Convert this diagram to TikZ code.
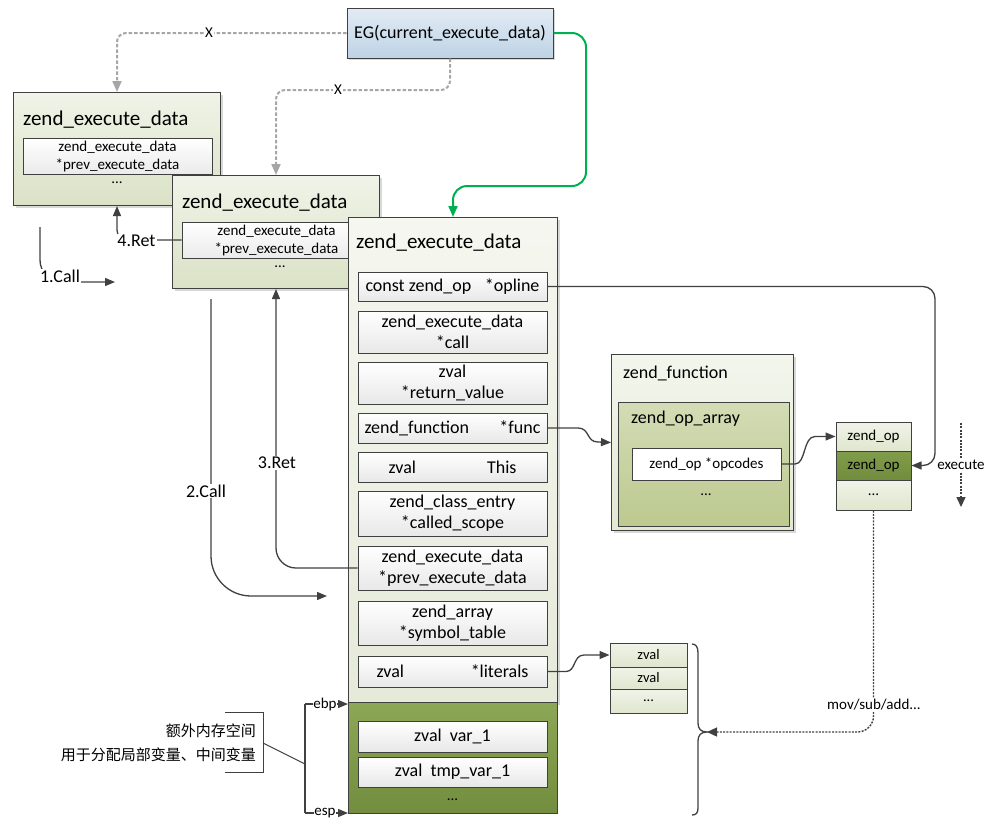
\documentclass[tikz,border=0pt]{standalone}
\usepackage{fontspec}
\setmainfont{Carlito}
\newfontfamily\cjk{Noto Sans CJK SC}
\usetikzlibrary{arrows.meta,shadows,calc}
\newcommand\szT{\fontsize{21}{24}\selectfont}
\newcommand\szM{\fontsize{18}{21}\selectfont}
\newcommand\szS{\fontsize{15}{18}\selectfont}
\newcommand\szX{\fontsize{14.5}{17}\selectfont}
\definecolor{linec}{HTML}{404040}
\definecolor{gline}{HTML}{A6A6A6}
\definecolor{gr}{HTML}{00B050}
\definecolor{bxA}{HTML}{DAE2C6}
\definecolor{bxM}{HTML}{E6EAD9}
\definecolor{bxF}{HTML}{E2E8D2}
\definecolor{egT}{HTML}{E2EBF4}
\definecolor{egB}{HTML}{BED3E6}
\definecolor{dkT}{HTML}{8CA857}
\definecolor{dkB}{HTML}{728D3D}
\definecolor{oaT}{HTML}{D3DCB5}
\definecolor{oaB}{HTML}{BCC98F}
\definecolor{ltT}{HTML}{F0F3E8}
\definecolor{ltB}{HTML}{E0E6CF}
\definecolor{zdT}{HTML}{819C4A}
\definecolor{zdB}{HTML}{728C3D}
\begin{document}
\begin{tikzpicture}[x=1pt,y=-1pt,
  bigbox/.style={draw=linec,line width=1pt,inner sep=0pt,anchor=north west,top color=#1!40!white,bottom color=#1,drop shadow={shadow xshift=2pt,shadow yshift=-2pt,fill=black!30,opacity=0.5}},
  bigbox/.default=bxA,
  plainbox/.style={draw=linec,line width=1pt,inner sep=0pt},
  rowbox/.style={draw=linec,line width=1pt,inner sep=0pt,top color=white,bottom color=black!9,minimum width=189pt,align=center,font=\szM},
  smallrow/.style={draw=linec,line width=1pt,inner sep=0pt,minimum width=#1,align=center,font=\szX},
  title/.style={inner sep=0pt,anchor=west,font=\szT},
  ttl/.style={inner sep=0pt,anchor=west,font=\szM},
  lbl/.style={fill=white,inner sep=1pt,font=\szM},
  slbl/.style={fill=white,inner sep=1pt,font=\szS},
  conn/.style={draw=linec,line width=1.3pt},
  arr/.style={conn,-{Triangle[length=10pt,width=8pt]}},
  gdash/.style={draw=gline,line width=2pt,dash pattern=on 3.5pt off 2pt,rounded corners=9pt,-{Triangle[length=11pt,width=9pt]}},
  dotarr/.style={draw=linec,line width=1.4pt,dash pattern=on 2pt off 1.3pt,-{Triangle[length=10pt,width=9pt]}}
]
\useasboundingbox (0,0) rectangle (994,823);

% EG box
\node[draw=linec,line width=1pt,top color=egT,bottom color=egB,minimum width=206pt,minimum height=50pt,inner sep=0pt,font=\szM,drop shadow={shadow xshift=2pt,shadow yshift=-2pt,fill=black!30,opacity=0.5}] (eg) at (450,33) {EG(current\_execute\_data)};

% box 1
\node[bigbox,minimum width=207pt,minimum height=113pt] (b1) at (13,92) {};
\node[title] (b1t) at (23,120) {zend\_execute\_data};
\node[plainbox,top color=white,bottom color=black!8,minimum width=189pt,minimum height=36pt,align=center,font=\szS] (b1in) at (117.5,156) {zend\_execute\_data\\*prev\_execute\_data};
\node[font=\szS,inner sep=0pt] (b1d) at (117,183) {...};

% box 2
\node[bigbox,minimum width=207pt,minimum height=113pt] (b2) at (172,175) {};
\node[title] (b2t) at (182,203) {zend\_execute\_data};
\node[plainbox,top color=white,bottom color=black!8,minimum width=189pt,minimum height=36pt,align=center,font=\szS] (b2in) at (276.5,240) {zend\_execute\_data\\*prev\_execute\_data};
\node[font=\szS,inner sep=0pt] (b2d) at (280,267) {...};

% main box
\node[bigbox=bxM,minimum width=209pt,minimum height=485pt] (m) at (348,217) {};
\node[draw=linec,line width=1pt,inner sep=0pt,anchor=north west,top color=dkT,bottom color=dkB,minimum width=209pt,minimum height=111pt] (md) at (348,702) {};
\node[title] (mt) at (356,243) {zend\_execute\_data};

\node[rowbox,minimum height=29pt] (r1) at (452.5,286.5) {\makebox[174pt]{const zend\_op\hfill *opline}};
\node[rowbox,minimum height=42pt] (r2) at (452.5,332) {zend\_execute\_data\\*call};
\node[rowbox,minimum height=42pt] (r3) at (452.5,383) {zval\\*return\_value};
\node[rowbox,minimum height=30pt] (r4) at (452.5,428) {\makebox[176pt]{zend\_function\hfill *func}};
\node[rowbox,minimum height=30pt] (r5) at (452.5,467) {\makebox[128pt]{zval\hfill This}};
\node[rowbox,minimum height=45pt] (r6) at (452.5,513.5) {zend\_class\_entry\\*called\_scope};
\node[rowbox,minimum height=44pt] (r7) at (452.5,568) {zend\_execute\_data\\*prev\_execute\_data};
\node[rowbox,minimum height=44pt] (r8) at (452.5,623) {zend\_array\\*symbol\_table};
\node[rowbox,minimum height=31pt] (r9) at (452.5,671.5) {\makebox[152pt]{zval\hfill *literals}};
\node[rowbox,minimum height=31pt] (r10) at (452.5,736.5) {zval\ \ var\_1};
\node[rowbox,minimum height=30pt] (r11) at (452.5,772) {zval\ \ tmp\_var\_1};
\node[font=\szS,inner sep=0pt] (mdd) at (452.5,800) {...};

% zend_function
\node[bigbox=bxF,minimum width=182pt,minimum height=176pt] (zf) at (611,354) {};
\node[ttl] (zft) at (623,373) {zend\_function};
\node[draw=linec,line width=1pt,inner sep=0pt,anchor=north west,top color=oaT,bottom color=oaB,minimum width=171pt,minimum height=124pt] (zoa) at (618,402) {};
\node[ttl] (zoat) at (631,419) {zend\_op\_array};
\node[plainbox,fill=white,minimum width=149pt,minimum height=32pt,font=\szS] (opc) at (706.5,464) {zend\_op *opcodes};
\node[font=\szS,inner sep=0pt] (zoad) at (706,495) {...};

% zend_op array
\node[smallrow=75pt,minimum height=29pt,top color=ltT,bottom color=ltB,font=\szS] (zop1) at (873.5,436.5) {zend\_op};
\node[smallrow=75pt,minimum height=29pt,top color=zdT,bottom color=zdB,font=\szS] (zop2) at (873.5,465.5) {zend\_op};
\node[smallrow=75pt,minimum height=30pt,top color=ltT,bottom color=ltB,font=\szS] (zop3) at (873.5,495) {...};

% zval array
\node[smallrow=77pt,minimum height=24pt,top color=ltT,bottom color=ltB] (zv1) at (648.5,655) {zval};
\node[smallrow=77pt,minimum height=22pt,top color=ltT,bottom color=ltB] (zv2) at (648.5,678) {zval};
\node[smallrow=77pt,minimum height=24pt,top color=ltT,bottom color=ltB] (zv3) at (648.5,701) {...};

% top connectors
\draw[gdash] (eg.west) -| (b1.north);
\node[slbl] (x1) at (209,33) {X};
\draw[gdash] (eg.south) -- (eg.south |- 0,90) -| (b2.north);
\node[slbl] (x2) at (338,90) {X};
\draw[draw=gr,line width=2pt,rounded corners=14pt,-{Triangle[length=11pt,width=9pt]}] (eg.east) -| (586,186) -| (m.north);

% call / ret
\coordinate (c1s) at (40,227);
\coordinate (c1e) at (115,282);
\draw[arr,rounded corners=22pt] (c1s) |- (c1e);
\node[lbl] (l1) at (60,276) {1.Call};

\draw[arr,rounded corners=10pt] (b2in.west) -| (b1.south);
\node[lbl] (l4) at (136.5,241) {4.Ret};

\coordinate (c2s) at (211,299);
\coordinate (c2e) at (327,596);
\draw[arr,rounded corners=40pt] (c2s) |- (c2e);
\node[lbl] (l2) at (206,491) {2.Call};

\draw[arr,rounded corners=20pt] (r7.west) -| (b2.south);
\node[lbl] (l3) at (277,463) {3.Ret};

% opline
\draw[arr,rounded corners=12pt] (r1.east) -| (935,465.5) -- (zop2.east);
% execute
\coordinate (exs) at (961,423);
\coordinate (exe) at (961,507);
\draw[dotarr] (exs) -- (exe);
\node[slbl] (exl) at (961,465) {execute};

% func
\draw[arr] (r4.east) -- (578,428) .. controls (590,428) and (586,442) .. (598,442) -- (zf.west);
% opcodes
\draw[arr] (opc.east) -- (795,464) .. controls (806,464) and (803,436.5) .. (815,436.5) -- (zop1.west);
% literals
\draw[arr] (r9.east) -- (566,671.5) .. controls (576,671.5) and (573,655) .. (584,655) -- (zv1.west);

% brace
\coordinate (btip) at (707,732);
\draw[conn] (692,644) .. controls (696,644) and (698,647) .. (698,653) -- (698,723) .. controls (698,729) and (701,732) .. (btip) .. controls (701,732) and (698,735) .. (698,741) -- (698,808) .. controls (698,813) and (696,815) .. (692,815);
\draw[dotarr,rounded corners=16pt] (zop3.south) |- (btip);
\node[slbl] (movl) at (874,705) {mov/sub/add...};

% ebp / esp
\coordinate (ebpc) at (305,704);
\coordinate (espc) at (305,813);
\draw[conn] (ebpc) -- (espc);
\draw[arr] (ebpc) -- (ebpc -| md.west);
\draw[arr] (espc) -- (espc -| md.west);
\node[fill=white,inner sep=0.5pt,font=\szS] (ebpl) at (325,704) {ebp};
\node[fill=white,inner sep=0.5pt,font=\szS] (espl) at (325,813) {esp};

% note
\coordinate (notec) at (263,743);
\coordinate (brc) at (305,764);
\draw[conn,line width=1pt] (notec) -- (brc);
\draw[conn,line width=1pt] (225,712) -- (263,712) -- (263,772) -- (225,772);
\node[inner sep=0pt,anchor=east,align=right,font={\cjk\fontsize{15}{24}\selectfont}] (note) at (256,743) {额外内存空间\\用于分配局部变量、中间变量};
\end{tikzpicture}
\end{document}
